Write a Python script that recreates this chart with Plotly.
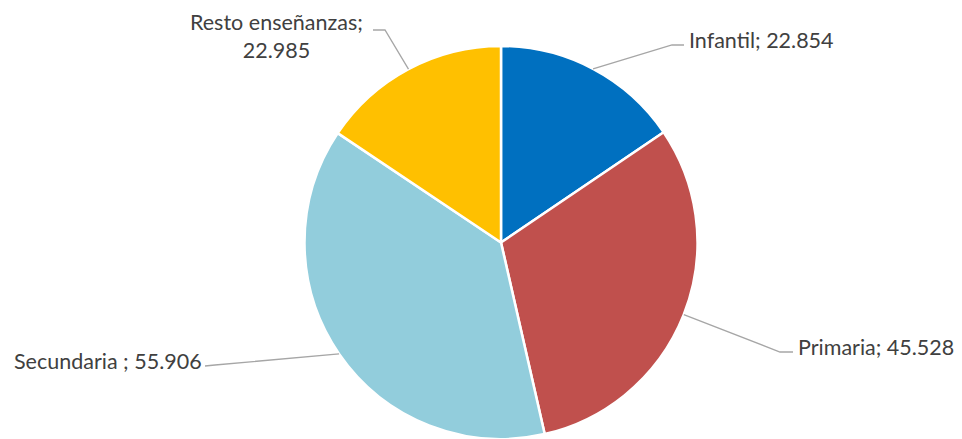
import math
import plotly.graph_objects as go

# ---- data ----
categories = ["Infantil", "Primaria", "Secundaria ", "Resto enseñanzas"]
values = [22854, 45528, 55906, 22985]
value_labels = ["22.854", "45.528", "55.906", "22.985"]
colors = ["#0070C0", "#C0504D", "#92CDDC", "#FFC000"]

# ---- layout constants (screen pixels) ----
OFF = 8  # default page body margin of the html page
W, H = 962 - OFF, 439 - OFF
CX, CY, R = 501, 242.5, 196.5
label_layout = [
    dict(elbow=(672, 45), end=(684, 45), text_xy=(687, 40), xanchor="left", br=False),
    dict(elbow=(780, 352), end=(793, 352), text_xy=(796, 347), xanchor="left", br=False),
    dict(elbow=(215, 365), end=(205, 366), text_xy=(204, 361), xanchor="right", br=False),
    dict(elbow=(385, 30), end=(373, 30), text_xy=(276, 36), xanchor="center", br=True),
]

def px(x, y):
    return (x - OFF) / W, 1 - (y - OFF) / H

fx0, fy0 = CX - OFF, CY - OFF
fig = go.Figure(go.Pie(
    labels=categories, values=values, sort=False, direction="clockwise",
    rotation=0, textinfo="none", hoverinfo="skip",
    marker=dict(colors=colors, line=dict(color="white", width=2.5)),
    domain=dict(x=[(fx0 - R) / W, (fx0 + R) / W],
                y=[max(0, (H - fy0 - R) / H), min(1, (H - fy0 + R) / H)]),
    showlegend=False,
))

total = sum(values)
cum = 0
shapes, annotations = [], []
for cat, v, vl, lay in zip(categories, values, value_labels, label_layout):
    mid = (cum + v / 2) / total * 2 * math.pi
    cum += v
    sx = CX + R * math.sin(mid)
    sy = CY - R * math.cos(mid)
    pts = [(sx, sy), lay["elbow"], lay["end"]]
    path = "M " + " L ".join(f"{px(*p)[0]},{px(*p)[1]}" for p in pts)
    shapes.append(dict(type="path", path=path, xref="paper", yref="paper",
                       line=dict(color="#A6A6A6", width=1.3)))
    sep = "<br>" if lay["br"] else " "
    text = f"{cat};{sep}{vl}"
    ax, ay = px(*lay["text_xy"])
    annotations.append(dict(x=ax, y=ay, xref="paper", yref="paper", text=text,
                            showarrow=False, xanchor=lay["xanchor"], yanchor="middle",
                            align="center", font=dict(size=21.5, color="#404040")))

fig.update_layout(
    width=W, height=H, margin=dict(l=0, r=0, t=0, b=0),
    paper_bgcolor="white", plot_bgcolor="white",
    font=dict(family="Lato, Carlito, Calibri, sans-serif", size=21.5, color="#404040"),
    shapes=shapes, annotations=annotations,
)
fig.write_html("out.html")
